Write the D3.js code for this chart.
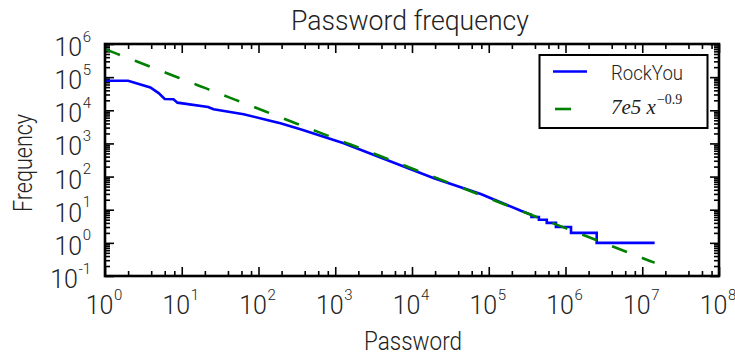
<!DOCTYPE html>
<html>
<head>
<meta charset="utf-8">
<script src="https://cdn.jsdelivr.net/npm/d3@7"></script>
<style>
  html, body { margin: 0; padding: 0; background: #fff; }
  svg { display: block; }
  text { font-family: Roboto, "Open Sans", sans-serif; font-weight: 300; fill: #222; }
</style>
</head>
<body>
<svg id="chart" width="735" height="355"></svg>
<script>
// Rank (x) and number of occurrences (y) of RockYou passwords
const rank = [1, 2, 3.9, 5, 6, 7.8, 8.8, 22, 26, 64, 129, 193, 352, 1291, 19320, 78700, 262000,
              360000, 360000, 450000, 450000, 570000, 570000, 750000, 750000, 1180000, 1180000,
              2550000, 2550000, 14500000];
const freq = [78000, 78000, 49000, 33000, 22000, 21500, 17000, 12600, 10700, 7600, 5100, 4055, 2673, 1009, 88.7, 29.8, 9.3,
              7, 6, 6, 5, 5, 4, 4, 3, 3, 2,
              2, 1, 1];

// Power-law fit: 7e5 * x^-0.9
const fitCoef = 7e5;
const fitExp = -0.9;
const fitRange = [1, 14500000];

const xTickExps = [0, 1, 2, 3, 4, 5, 6, 7, 8];
const yTickExps = [-1, 0, 1, 2, 3, 4, 5, 6];

const titleText = "Password frequency";
const xLabelText = "Password";
const yLabelText = "Frequency";
const seriesNames = ["RockYou", "7e5 x"];

const W = 735, H = 355;
const pLeft = 105, pRight = 719, pTop = 44, pBottom = 276;

const svg = d3.select("#chart");
svg.append("rect").attr("width", W).attr("height", H).attr("fill", "#fff");

const x = d3.scaleLog().domain([1, 1e8]).range([pLeft, pRight]);
const y = d3.scaleLog().domain([0.1, 1e6]).range([pBottom, pTop]);

// minor tick positions
const xMinor = [];
xTickExps.slice(0, -1).forEach(e => [2, 4, 6, 8].forEach(s => xMinor.push(s * Math.pow(10, e))));
const yMinor = [];
yTickExps.slice(0, -1).forEach(e => [2, 3, 4, 5, 6, 7, 8, 9].forEach(s => yMinor.push(s * Math.pow(10, e))));
const xMajor = xTickExps.map(e => Math.pow(10, e));
const yMajor = yTickExps.map(e => Math.pow(10, e));

function tickAxis(gen, vals, size, tx, ty) {
  const g = svg.append("g").attr("transform", `translate(${tx},${ty})`)
    .call(gen.tickValues(vals).tickSize(size).tickFormat(""));
  g.select(".domain").remove();
  g.selectAll(".tick line").attr("stroke", "#000").attr("stroke-width", 1.6);
}
// ticks point inward on all four sides
tickAxis(d3.axisBottom(x), xMajor, -9, 0, pBottom);
tickAxis(d3.axisBottom(x), xMinor, -5, 0, pBottom);
tickAxis(d3.axisTop(x), xMajor, -9, 0, pTop);
tickAxis(d3.axisTop(x), xMinor, -5, 0, pTop);
tickAxis(d3.axisLeft(y), yMajor, -9, pLeft, 0);
tickAxis(d3.axisLeft(y), yMinor, -5, pLeft, 0);
tickAxis(d3.axisRight(y), yMajor, -9, pRight, 0);
tickAxis(d3.axisRight(y), yMinor, -5, pRight, 0);

// data lines, clipped to the plot area
svg.append("clipPath").attr("id", "clip")
  .append("rect").attr("x", pLeft).attr("y", pTop).attr("width", pRight - pLeft).attr("height", pBottom - pTop);
const plot = svg.append("g").attr("clip-path", "url(#clip)");

const line = d3.line().x(d => x(d[0])).y(d => y(d[1]));
plot.append("path")
  .datum(rank.map((r, i) => [r, freq[i]]))
  .attr("d", line)
  .attr("fill", "none")
  .attr("stroke", "#0000ff")
  .attr("stroke-width", 2.6)
  .attr("stroke-linejoin", "miter");

const fitPts = [];
for (let e = Math.log10(fitRange[0]); e < Math.log10(fitRange[1]); e += 0.05) {
  const xv = Math.pow(10, e);
  fitPts.push([xv, fitCoef * Math.pow(xv, fitExp)]);
}
fitPts.push([fitRange[1], fitCoef * Math.pow(fitRange[1], fitExp)]);
plot.append("path")
  .datum(fitPts)
  .attr("d", line)
  .attr("fill", "none")
  .attr("stroke", "#008000")
  .attr("stroke-width", 2.6)
  .attr("stroke-dasharray", "16,16");

// frame
svg.append("rect")
  .attr("x", pLeft).attr("y", pTop)
  .attr("width", pRight - pLeft).attr("height", pBottom - pTop)
  .attr("fill", "none").attr("stroke", "#000").attr("stroke-width", 2.6);

// tick labels: 10 with superscript exponent
xTickExps.forEach(e => {
  const t = svg.append("text")
    .attr("x", x(Math.pow(10, e)) - 1)
    .attr("y", 314)
    .attr("text-anchor", "middle")
    .attr("font-size", 25);
  t.append("tspan").text("10");
  t.append("tspan").attr("font-size", 15).attr("dy", -14.5).attr("dx", 0.5).text(String(e));
});
yTickExps.forEach(e => {
  const t = svg.append("text")
    .attr("x", 91)
    .attr("y", y(Math.pow(10, e)) + 12)
    .attr("text-anchor", "end")
    .attr("font-size", 25);
  t.append("tspan").text("10");
  t.append("tspan").attr("font-size", 15).attr("dy", -14.5).attr("dx", 0.5).text(String(e));
});

// title and axis labels (narrow set width)
svg.append("text").attr("x", 410).attr("y", 30).attr("text-anchor", "middle")
  .attr("font-size", 28).attr("textLength", 238).attr("lengthAdjust", "spacingAndGlyphs")
  .text(titleText);
svg.append("text").attr("x", 413).attr("y", 350).attr("text-anchor", "middle")
  .attr("font-size", 26).attr("textLength", 98).attr("lengthAdjust", "spacingAndGlyphs")
  .text(xLabelText);
svg.append("text").attr("transform", "translate(31.5,163) rotate(-90)")
  .attr("text-anchor", "middle").attr("font-size", 26)
  .attr("textLength", 98).attr("lengthAdjust", "spacingAndGlyphs")
  .text(yLabelText);

// legend
const lg = svg.append("g");
lg.append("rect").attr("x", 539.5).attr("y", 55).attr("width", 168).attr("height", 73)
  .attr("fill", "#fff").attr("stroke", "#000").attr("stroke-width", 2);
lg.append("line").attr("x1", 553).attr("x2", 587).attr("y1", 71.5).attr("y2", 71.5)
  .attr("stroke", "#0000ff").attr("stroke-width", 2.6);
lg.append("line").attr("x1", 555).attr("x2", 587).attr("y1", 109).attr("y2", 109)
  .attr("stroke", "#008000").attr("stroke-width", 2.6).attr("stroke-dasharray", "16,16");
lg.append("text").attr("x", 611).attr("y", 79.5).attr("font-size", 21)
  .attr("textLength", 72).attr("lengthAdjust", "spacingAndGlyphs").text(seriesNames[0]);
const mt = lg.append("text").attr("x", 611).attr("y", 113.5)
  .style("font-family", "'Liberation Serif', 'DejaVu Serif', serif")
  .style("font-style", "italic").style("font-weight", 400).attr("font-size", 21);
mt.append("tspan").text(seriesNames[1]);
mt.append("tspan").attr("font-size", 14).attr("dy", -10).attr("dx", 1)
  .style("font-style", "normal").text("\u22120.9");
</script>
</body>
</html>
